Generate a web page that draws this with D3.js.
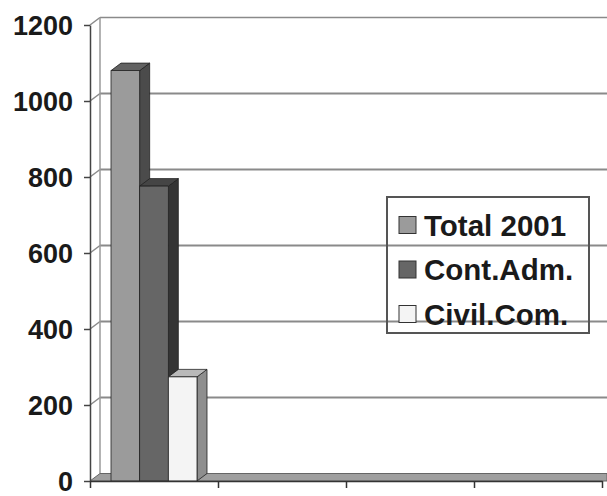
<!DOCTYPE html>
<html>
<head>
<meta charset="utf-8">
<script src="https://cdn.jsdelivr.net/npm/d3@7"></script>
<style>
  html, body { margin: 0; padding: 0; background: #fff; }
  svg { display: block; }
  text { font-family: "Liberation Sans", Arial, sans-serif; font-weight: bold; fill: #1a1a1a; }
</style>
</head>
<body>
<svg id="chart" width="607" height="496"></svg>
<script>
// Categories along the floor (only the first one carries data)
const categories = ["1", "2", "3", "4"];

// Series
const seriesNames = ["Total 2001", "Cont.Adm.", "Civil.Com."];
const total2001 = [1080, null, null, null];
const contAdm   = [776, null, null, null];
const civilCom  = [274, null, null, null];

// Value axis tick labels
const yTicks = [0, 200, 400, 600, 800, 1000, 1200];

const seriesValues = [total2001, contAdm, civilCom];

// Face shading per series: front, side, top
const faceColors = [
  { front: "#9b9b9b", side: "#4b4b4b", top: "#626262" },
  { front: "#666666", side: "#343434", top: "#454545" },
  { front: "#f4f4f4", side: "#8e8e8e", top: "#b9b9b9" }
];

const svg = d3.select("#chart");

// Depth offset of the 3D box
const depthX = 10, depthY = -7.5;

const x = d3.scaleBand().domain(categories).range([90, 602]).padding(0);
const xEdge = d3.scaleLinear().domain([0, categories.length]).range(x.range());
const xInner = d3.scaleBand().domain(seriesNames).range([21, 107]).padding(0);
const y = d3.scaleLinear().domain([0, 1200]).range([481, 25]);

const x0 = x.range()[0];
const xMax = 607;

// Back wall and side wall gridlines
const grid = svg.append("g").attr("class", "grid");
yTicks.forEach(v => {
  if (v === 0) return;
  grid.append("line")
    .attr("x1", x0 + depthX).attr("x2", xMax)
    .attr("y1", y(v) + depthY).attr("y2", y(v) + depthY)
    .attr("stroke", "#8a8a8a").attr("stroke-width", v === 1200 ? 1.6 : 2);
  grid.append("line")
    .attr("x1", x0).attr("y1", y(v))
    .attr("x2", x0 + depthX).attr("y2", y(v) + depthY)
    .attr("stroke", "#8a8a8a").attr("stroke-width", 1.5);
});

// Back edge of the side wall
grid.append("line")
  .attr("x1", x0 + depthX).attr("x2", x0 + depthX)
  .attr("y1", y(1200) + depthY).attr("y2", y(0) + depthY)
  .attr("stroke", "#9a9a9a").attr("stroke-width", 1.5);

// Floor
svg.append("path")
  .attr("d", [
    "M", x0, y(0),
    "L", x0 + depthX, y(0) + depthY,
    "L", xMax, y(0) + depthY,
    "L", xMax, y(0),
    "Z"
  ].join(" "))
  .attr("fill", "#9f9f9f")
  .attr("stroke", "#666").attr("stroke-width", 1);

// Columns: side, top and front face of each box
const bars = svg.append("g").attr("class", "bars");
categories.forEach((cat, ci) => {
  seriesNames.forEach((name, si) => {
    const v = seriesValues[si][ci];
    if (v == null) return;
    const bx = x(cat) + xInner(name);
    const bw = xInner.bandwidth();
    const yt = y(v), yb = y(0);
    const c = faceColors[si];
    const g = bars.append("g");
    g.append("path")
      .attr("d", `M${bx + bw},${yb} L${bx + bw + depthX},${yb + depthY} L${bx + bw + depthX},${yt + depthY} L${bx + bw},${yt} Z`)
      .attr("fill", c.side).attr("stroke", "#222").attr("stroke-width", 0.8);
    g.append("path")
      .attr("d", `M${bx},${yt} L${bx + depthX},${yt + depthY} L${bx + bw + depthX},${yt + depthY} L${bx + bw},${yt} Z`)
      .attr("fill", c.top).attr("stroke", "#222").attr("stroke-width", 0.8);
    g.append("rect")
      .attr("x", bx).attr("y", yt)
      .attr("width", bw).attr("height", yb - yt)
      .attr("fill", c.front).attr("stroke", "#222").attr("stroke-width", 0.8);
  });
});

// Value axis
const yAxis = svg.append("g")
  .attr("transform", `translate(${x0},0)`)
  .call(d3.axisLeft(y).tickValues(yTicks).tickFormat(d3.format("d"))
    .tickSize(6).tickSizeOuter(0).tickPadding(11));
yAxis.select(".domain").attr("stroke", "#444").attr("stroke-width", 1.5);
yAxis.selectAll(".tick line").attr("stroke", "#444").attr("stroke-width", 1.5);
yAxis.selectAll(".tick text")
  .attr("font-size", 27)
  .attr("font-family", "'Liberation Sans', Arial, sans-serif")
  .attr("font-weight", "bold")
  .attr("fill", "#1a1a1a")
  .attr("dy", "0.36em");

// Category axis: ticks on the category boundaries, no labels
const xAxis = svg.append("g")
  .attr("transform", `translate(0,${y(0)})`)
  .call(d3.axisBottom(xEdge).ticks(categories.length).tickFormat("").tickSize(7).tickSizeOuter(0));
xAxis.select(".domain").attr("stroke", "#333").attr("stroke-width", 1.5);
xAxis.selectAll(".tick line").attr("stroke", "#333").attr("stroke-width", 1.5);

// Legend
const legend = svg.append("g").attr("class", "legend");
legend.append("rect")
  .attr("x", 387).attr("y", 197).attr("width", 202).attr("height", 136)
  .attr("fill", "none").attr("stroke", "#555").attr("stroke-width", 2);
seriesNames.forEach((name, i) => {
  const cy = 225 + i * 44.5;
  legend.append("rect")
    .attr("x", 399).attr("y", cy - 8.5).attr("width", 17).attr("height", 17)
    .attr("fill", faceColors[i].front).attr("stroke", "#333").attr("stroke-width", 1);
  legend.append("text")
    .attr("x", 424).attr("y", cy + 10.5)
    .attr("font-size", 29.5)
    .text(name);
});
</script>
</body>
</html>
